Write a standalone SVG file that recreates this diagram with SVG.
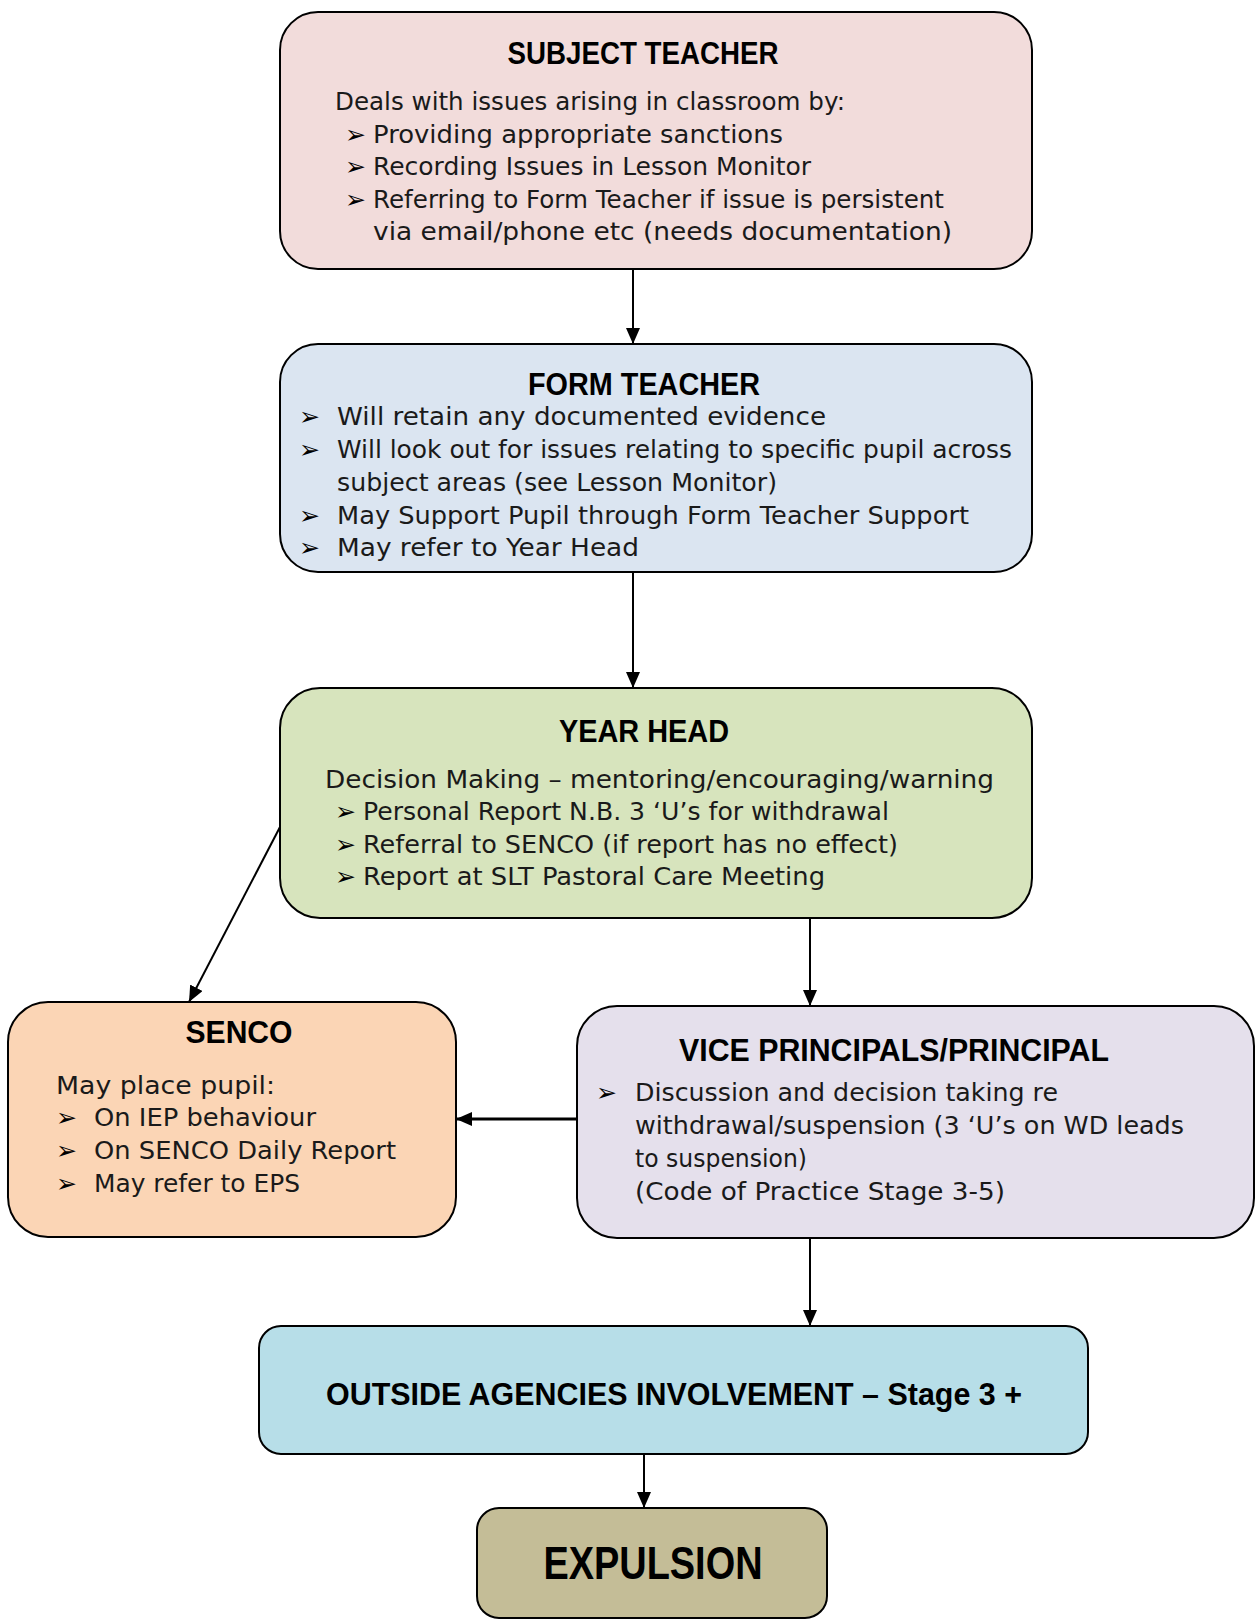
<svg xmlns="http://www.w3.org/2000/svg" width="1256" height="1619" viewBox="0 0 1256 1619">
<style>
.box{stroke:#000;stroke-width:2}
.title{font-family:"Liberation Sans",Arial,sans-serif;font-weight:bold;font-size:31px;fill:#000}
.body{font-family:"DejaVu Sans","Liberation Sans",sans-serif;font-size:24px;fill:#1a1a1a}
.bul{font-family:"DejaVu Sans",sans-serif;font-size:25px;fill:#000}
.conn{stroke:#000;stroke-width:2;fill:none}
</style>
<defs>
<marker id="ah" markerUnits="userSpaceOnUse" markerWidth="16" markerHeight="14" refX="16" refY="7" orient="auto">
<path d="M0,0 L16,7 L0,14 z" fill="#000"/>
</marker>
</defs>
<rect width="1256" height="1619" fill="#fff"/>

<g id="connectors">
<line class="conn" x1="633" y1="269" x2="633" y2="344" marker-end="url(#ah)"/>
<line class="conn" x1="633" y1="572" x2="633" y2="688" marker-end="url(#ah)"/>
<line class="conn" x1="280" y1="827" x2="189" y2="1002" marker-end="url(#ah)"/>
<line class="conn" x1="810" y1="918" x2="810" y2="1006" marker-end="url(#ah)"/>
<line class="conn" x1="577" y1="1119" x2="456" y2="1119" style="stroke-width:3" marker-end="url(#ah)"/>
<line class="conn" x1="810" y1="1238" x2="810" y2="1326" marker-end="url(#ah)"/>
<line class="conn" x1="644" y1="1454" x2="644" y2="1508" marker-end="url(#ah)"/>
</g>

<g id="subject-teacher">
<rect class="box" x="280" y="12" width="752" height="257" rx="38" fill="#F2DCDB"/>
<text class="title" x="643" y="64" text-anchor="middle" textLength="271" lengthAdjust="spacingAndGlyphs">SUBJECT TEACHER</text>
<text class="body" x="335" y="110" textLength="510" lengthAdjust="spacingAndGlyphs">Deals with issues arising in classroom by:</text>
<text class="bul" x="345" y="143">➢</text>
<text class="body" x="373" y="143" textLength="410" lengthAdjust="spacingAndGlyphs">Providing appropriate sanctions</text>
<text class="bul" x="345" y="175">➢</text>
<text class="body" x="373" y="175" textLength="438" lengthAdjust="spacingAndGlyphs">Recording Issues in Lesson Monitor</text>
<text class="bul" x="345" y="208">➢</text>
<text class="body" x="373" y="208" textLength="571" lengthAdjust="spacingAndGlyphs">Referring to Form Teacher if issue is persistent</text>
<text class="body" x="373" y="240" textLength="579" lengthAdjust="spacingAndGlyphs">via email/phone etc (needs documentation)</text>
</g>

<g id="form-teacher">
<rect class="box" x="280" y="344" width="752" height="228" rx="38" fill="#DBE5F1"/>
<text class="title" x="644" y="395" text-anchor="middle" textLength="232" lengthAdjust="spacingAndGlyphs">FORM TEACHER</text>
<text class="bul" x="299" y="425">➢</text>
<text class="body" x="337" y="425" textLength="489" lengthAdjust="spacingAndGlyphs">Will retain any documented evidence</text>
<text class="bul" x="299" y="458">➢</text>
<text class="body" x="337" y="458" textLength="675" lengthAdjust="spacingAndGlyphs">Will look out for issues relating to specific pupil across</text>
<text class="body" x="337" y="491" textLength="440" lengthAdjust="spacingAndGlyphs">subject areas (see Lesson Monitor)</text>
<text class="bul" x="299" y="524">➢</text>
<text class="body" x="337" y="524" textLength="632" lengthAdjust="spacingAndGlyphs">May Support Pupil through Form Teacher Support</text>
<text class="bul" x="299" y="556">➢</text>
<text class="body" x="337" y="556" textLength="302" lengthAdjust="spacingAndGlyphs">May refer to Year Head</text>
</g>

<g id="year-head">
<rect class="box" x="280" y="688" width="752" height="230" rx="40" fill="#D7E4BD"/>
<text class="title" x="644" y="742" text-anchor="middle" textLength="170" lengthAdjust="spacingAndGlyphs">YEAR HEAD</text>
<text class="body" x="325" y="788" textLength="669" lengthAdjust="spacingAndGlyphs">Decision Making – mentoring/encouraging/warning</text>
<text class="bul" x="335" y="820">➢</text>
<text class="body" x="363" y="820" textLength="526" lengthAdjust="spacingAndGlyphs">Personal Report N.B. 3 ‘U’s for withdrawal</text>
<text class="bul" x="335" y="853">➢</text>
<text class="body" x="363" y="853" textLength="535" lengthAdjust="spacingAndGlyphs">Referral to SENCO (if report has no effect)</text>
<text class="bul" x="335" y="885">➢</text>
<text class="body" x="363" y="885" textLength="462" lengthAdjust="spacingAndGlyphs">Report at SLT Pastoral Care Meeting</text>
</g>

<g id="senco">
<rect class="box" x="8" y="1002" width="448" height="235" rx="40" fill="#FBD5B5"/>
<text class="title" x="239" y="1043" text-anchor="middle" textLength="107" lengthAdjust="spacingAndGlyphs">SENCO</text>
<text class="body" x="56" y="1094" textLength="219" lengthAdjust="spacingAndGlyphs">May place pupil:</text>
<text class="bul" x="56" y="1126">➢</text>
<text class="body" x="94" y="1126" textLength="222" lengthAdjust="spacingAndGlyphs">On IEP behaviour</text>
<text class="bul" x="56" y="1159">➢</text>
<text class="body" x="94" y="1159" textLength="302" lengthAdjust="spacingAndGlyphs">On SENCO Daily Report</text>
<text class="bul" x="56" y="1192">➢</text>
<text class="body" x="94" y="1192" textLength="206" lengthAdjust="spacingAndGlyphs">May refer to EPS</text>
</g>

<g id="vice-principals">
<rect class="box" x="577" y="1006" width="677" height="232" rx="40" fill="#E5E0EC"/>
<text class="title" x="894" y="1061" text-anchor="middle" textLength="430" lengthAdjust="spacingAndGlyphs">VICE PRINCIPALS/PRINCIPAL</text>
<text class="bul" x="596" y="1101">➢</text>
<text class="body" x="635" y="1101" textLength="423" lengthAdjust="spacingAndGlyphs">Discussion and decision taking re</text>
<text class="body" x="635" y="1134" textLength="549" lengthAdjust="spacingAndGlyphs">withdrawal/suspension (3 ‘U’s on WD leads</text>
<text class="body" x="635" y="1167" textLength="172" lengthAdjust="spacingAndGlyphs">to suspension)</text>
<text class="body" x="635" y="1200" textLength="370" lengthAdjust="spacingAndGlyphs">(Code of Practice Stage 3-5)</text>
</g>

<g id="outside-agencies">
<rect class="box" x="259" y="1326" width="829" height="128" rx="22" fill="#B7DEE8"/>
<text class="title" x="674" y="1405" text-anchor="middle" textLength="696" lengthAdjust="spacingAndGlyphs">OUTSIDE AGENCIES INVOLVEMENT – Stage 3 +</text>
</g>

<g id="expulsion">
<rect class="box" x="477" y="1508" width="350" height="110" rx="22" fill="#C4BD97"/>
<text class="title" x="653" y="1579" text-anchor="middle" style="font-size:47px" textLength="219" lengthAdjust="spacingAndGlyphs">EXPULSION</text>
</g>
</svg>
